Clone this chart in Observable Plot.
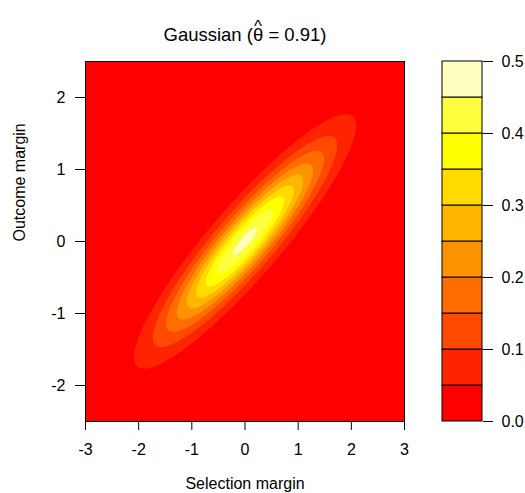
<!DOCTYPE html>
<html>
<head>
<meta charset="utf-8">
<script src="https://cdn.jsdelivr.net/npm/d3@7"></script>
<script src="https://cdn.jsdelivr.net/npm/@observablehq/plot@0.6"></script>
<style>
  html, body { margin: 0; padding: 0; background: #fff; overflow: hidden; }
  #wrap { position: relative; width: 525px; height: 493px; overflow: hidden; }
  #wrap svg { position: absolute; top: 0; overflow: hidden; }
</style>
</head>
<body>
<div id="wrap"></div>
<script>
// ---- data ----
const titleText = "Gaussian (\u03B8 = 0.91)";
const hatText = "^";
const xLabel = "Selection margin";
const yLabel = "Outcome margin";
const theta = 0.91;            // correlation of the Gaussian surface
const center = [0, 0];         // centre of the density
const spread = [0.99, 0.838];  // standard deviations (selection, outcome)
const levels = [0, 0.05, 0.1, 0.15, 0.2, 0.25, 0.3, 0.35, 0.4, 0.45, 0.5];
const levelColors = ["#FF0000", "#FF2400", "#FF4900", "#FF6D00", "#FF9200",
                     "#FFB600", "#FFDB00", "#FFFF00", "#FFFF40", "#FFFFBF"];
const xTicks = [-3, -2, -1, 0, 1, 2, 3];
const yTicks = [-2, -1, 0, 1, 2];
const keyTicks = [0, 0.1, 0.2, 0.3, 0.4, 0.5];
const xDomain = [-3, 3];
const yDomain = [-2.5, 2.5];

// bivariate normal density surface
function density(x, y) {
  const zx = (x - center[0]) / spread[0];
  const zy = (y - center[1]) / spread[1];
  const r = theta;
  const q = (zx * zx - 2 * r * zx * zy + zy * zy) / (1 - r * r);
  return Math.exp(-q / 2) / (2 * Math.PI * spread[0] * spread[1] * Math.sqrt(1 - r * r));
}

const colorScale = {type: "threshold", domain: levels.slice(1, -1), range: levelColors};
const font = "'Liberation Sans', Arial, Helvetica, sans-serif";

const main = Plot.plot({
  width: 430, height: 493,
  marginLeft: 85, marginRight: 26, marginTop: 61, marginBottom: 72,
  style: {fontFamily: font, fontSize: "16px", color: "black", background: "white"},
  x: {domain: xDomain},
  y: {domain: yDomain},
  color: colorScale,
  marks: [
    Plot.frame({fill: levelColors[0]}),
    Plot.contour({
      fill: (x, y) => density(x, y),
      x1: xDomain[0], x2: xDomain[1], y1: yDomain[0], y2: yDomain[1],
      thresholds: levels.slice(0, -1),
      stroke: "none"
    }),
    Plot.frame({stroke: "#000", strokeWidth: 1}),
    Plot.axisX({ticks: xTicks, tickSize: 9, tickPadding: 13, tickFormat: d => String(d), label: null, fontSize: 16}),
    Plot.axisY({ticks: yTicks, tickSize: 10, tickPadding: 10, tickFormat: d => String(d), label: null, fontSize: 16}),
    Plot.text([xLabel], {frameAnchor: "bottom", dy: 67, fontSize: 16, text: d => d}),
    Plot.text([yLabel], {frameAnchor: "left", dx: -66, rotate: -90, fontSize: 16, text: d => d}),
    Plot.text([titleText], {frameAnchor: "top", dy: -34, fontSize: 18.5, text: d => d, className: "main-title"})
  ]
});

const bands = levelColors.map((c, i) => ({lo: levels[i], hi: levels[i + 1]}));

const key = Plot.plot({
  width: 95, height: 493,
  marginLeft: 12, marginRight: 43, marginTop: 61, marginBottom: 72,
  style: {fontFamily: font, fontSize: "16px", color: "black", background: "transparent"},
  x: {domain: [0, 1], axis: null},
  y: {domain: [levels[0], levels[levels.length - 1]], axis: null},
  color: colorScale,
  marks: [
    Plot.rect(bands, {x1: 0, x2: 1, y1: "lo", y2: "hi", fill: "lo", stroke: "#000", strokeWidth: 1}),
    Plot.axisY({anchor: "right", ticks: keyTicks, tickSize: 10, tickPadding: 9, tickFormat: d3.format(".1f"), label: null, fontSize: 16})
  ]
});

const wrap = document.getElementById("wrap");
main.style.left = "0px";
key.style.left = "430px";
wrap.appendChild(main);
wrap.appendChild(key);

// place the hat (^) above the theta of the title
const tEl = main.querySelector(".main-title text");
if (tEl) {
  const idx = titleText.indexOf("\u03B8");
  const box = tEl.getExtentOfChar(idx);
  const start = tEl.getStartPositionOfChar(idx);
  const ns = "http://www.w3.org/2000/svg";
  const hat = document.createElementNS(ns, "text");
  const tr = tEl.getAttribute("transform");
  if (tr) hat.setAttribute("transform", tr);
  hat.setAttribute("x", box.x + box.width / 2);
  hat.setAttribute("y", start.y - 8.5);
  hat.setAttribute("text-anchor", "middle");
  hat.setAttribute("font-size", "17");
  hat.setAttribute("font-family", font);
  hat.setAttribute("fill", "black");
  hat.textContent = hatText;
  tEl.parentNode.appendChild(hat);
}
</script>
</body>
</html>
